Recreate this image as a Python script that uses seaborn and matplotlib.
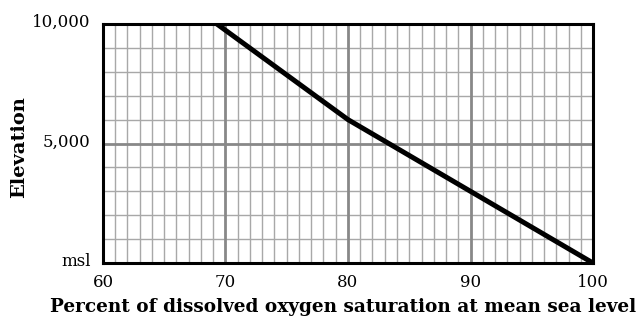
import matplotlib
matplotlib.use("Agg")
import matplotlib.pyplot as plt
from matplotlib.ticker import MultipleLocator, FixedLocator
from matplotlib.transforms import ScaledTranslation
import seaborn as sns
import pandas as pd

# Percent of dissolved oxygen saturation vs. elevation (feet)
elevation = [0, 3000, 6000, 10000]
saturation = [100.0, 90.0, 80.0, 69.3]

x_ticks = [60, 70, 80, 90, 100]
y_ticks = [0, 5000, 10000]
y_tick_labels = ["msl", "5,000", "10,000"]

df = pd.DataFrame({"saturation": saturation, "elevation": elevation})

sns.set_theme(style="white")
plt.rcParams["font.family"] = ["DejaVu Serif"]

fig = plt.figure(figsize=(6.38, 3.2), dpi=100)
ax = fig.add_axes([0.1614, 0.178, 0.9295 - 0.1614, 0.925 - 0.178])

ax.set_xlim(60, 100)
ax.set_ylim(0, 10000)

# graph-paper grid
ax.xaxis.set_minor_locator(MultipleLocator(1))
ax.yaxis.set_minor_locator(MultipleLocator(1000))
ax.grid(which="minor", color="#a8a8a8", linewidth=1.0)
for xv in [70, 80, 90]:
    ax.axvline(xv, color="#888888", linewidth=2.0, zorder=1)
ax.axhline(5000, color="#888888", linewidth=2.0, zorder=1)
ax.set_axisbelow(True)

sns.lineplot(data=df, x="saturation", y="elevation", ax=ax, color="black",
             linewidth=3.6, sort=False, zorder=3)

ax.xaxis.set_major_locator(FixedLocator(x_ticks))
ax.set_xticklabels([str(v) for v in x_ticks])
ax.yaxis.set_major_locator(FixedLocator(y_ticks))
ax.set_yticklabels(y_tick_labels)

ax.tick_params(which="both", length=0, labelsize=12, colors="black")
ax.tick_params(axis="x", pad=8)
ax.tick_params(axis="y", pad=9)

# y tick labels sit with their baseline just below each gridline
shift = ScaledTranslation(0, -3 / 100, fig.dpi_scale_trans)
for lbl in ax.get_yticklabels():
    lbl.set_verticalalignment("baseline")
    lbl.set_transform(lbl.get_transform() + shift)

for sp in ax.spines.values():
    sp.set_visible(True)
    sp.set_color("black")
    sp.set_linewidth(2.2)
    sp.set_zorder(4)

ax.set_xlabel("Percent of dissolved oxygen saturation at mean sea level",
              fontsize=13.3, fontweight="bold", color="black")
ax.xaxis.set_label_coords(0.489, -0.146)
ax.set_ylabel("Elevation", fontsize=14, fontweight="bold", color="black")
ax.yaxis.set_label_coords(-0.153, 0.485)

fig.savefig("out.png", dpi=100, facecolor="white")
